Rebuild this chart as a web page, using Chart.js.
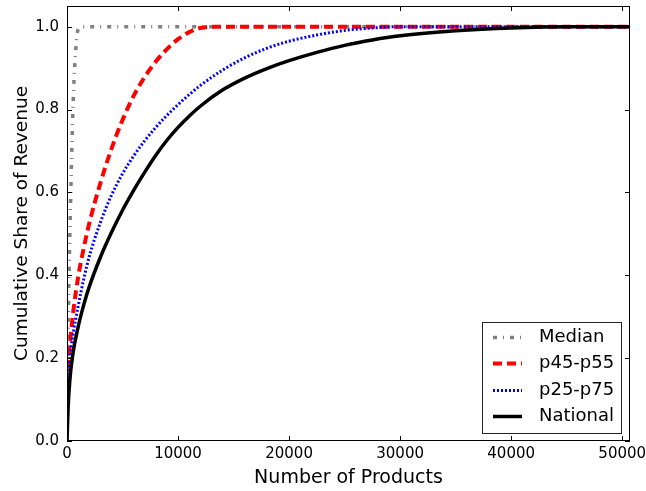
<!DOCTYPE html>
<html>
<head>
<meta charset="utf-8">
<script src="https://cdn.jsdelivr.net/npm/chart.js@4.4.0/dist/chart.umd.min.js"></script>
<style>
  html, body { margin: 0; padding: 0; background: #fff; }
  canvas { display: block; }
</style>
</head>
<body>
<canvas id="chart" width="646" height="491"></canvas>
<script>
// tick values for both axes
const xTicks = [0, 10000, 20000, 30000, 40000, 50000];
const yTicks = [0.0, 0.2, 0.4, 0.6, 0.8, 1.0];

// Median (dash-dot grey)
const medianX = [0, 50, 150, 300, 450, 600, 750, 900, 1100, 1400, 50700];
const medianY = [0, 0.15, 0.35, 0.55, 0.72, 0.85, 0.93, 0.98, 0.997, 1.0, 1.0];

// p45-p55 (red dashed)
const p45X = [0, 100, 300, 600, 1000, 1500, 2000, 3000, 4000, 5000, 6000, 7000, 8000, 9000, 10000, 11000, 12000, 13000, 50700];
const p45Y = [0.14, 0.18, 0.245, 0.32, 0.395, 0.465, 0.525, 0.622, 0.705, 0.775, 0.833, 0.879, 0.916, 0.946, 0.97, 0.987, 0.997, 1.0, 1.0];

// p25-p75 (blue dotted)
const p25X = [0, 200, 500, 1000, 1500, 2000, 3000, 4000, 5000, 6000, 7000, 8000, 9000, 10000, 11000, 12000, 14000, 16000, 18000, 20000, 22500, 25000, 27500, 30000, 50700];
const p25Y = [0.13, 0.19, 0.25, 0.325, 0.39, 0.445, 0.527, 0.593, 0.645, 0.688, 0.725, 0.757, 0.786, 0.812, 0.836, 0.858, 0.895, 0.925, 0.948, 0.965, 0.98, 0.991, 0.997, 1.0, 1.0];

// National (solid black)
const natX = [0, 100, 250, 500, 1000, 1500, 2000, 3000, 4000, 5000, 6000, 7000, 8000, 9000, 10000, 11000, 12000, 14000, 16000, 18000, 20000, 22500, 25000, 27500, 30000, 35000, 40000, 45000, 50700];
const natY = [0, 0.08, 0.145, 0.205, 0.275, 0.328, 0.372, 0.443, 0.503, 0.557, 0.605, 0.649, 0.69, 0.726, 0.757, 0.784, 0.808, 0.847, 0.876, 0.899, 0.918, 0.938, 0.955, 0.968, 0.978, 0.99, 0.997, 1.0, 1.0];

const toPoints = (xs, ys) => xs.map((x, i) => ({ x: x, y: ys[i] }));

const font = "'DejaVu Sans', sans-serif";

//frame + inward ticks on all four sides, like matplotlib classic
const framePlugin = {
  id: 'frame',
  afterDatasetsDraw(chart) {
    const { ctx, chartArea: a, scales } = chart;
    ctx.save();
    ctx.strokeStyle = '#000';
    ctx.lineWidth = 1;
    ctx.strokeRect(a.left + 0.5, a.top + 0.5, a.width - 1, a.height - 1);
    ctx.beginPath();
    xTicks.forEach(v => {
      const px = Math.round(scales.x.getPixelForValue(v)) + 0.5;
      ctx.moveTo(px, a.bottom); ctx.lineTo(px, a.bottom - 5);
      ctx.moveTo(px, a.top); ctx.lineTo(px, a.top + 5);
    });
    yTicks.forEach(v => {
      const py = Math.round(scales.y.getPixelForValue(v)) + 0.5;
      ctx.moveTo(a.left, py); ctx.lineTo(a.left + 5, py);
      ctx.moveTo(a.right, py); ctx.lineTo(a.right - 5, py);
    });
    ctx.stroke();
    ctx.restore();
  }
};

//legend box in the lower right of the plot
const legendPlugin = {
  id: 'boxLegend',
  afterDraw(chart) {
    const { ctx, chartArea: a } = chart;
    const w = 139, h = 111;
    const left = a.right - 9 - w, top = a.bottom - 8 - h;
    ctx.save();
    ctx.fillStyle = '#fff';
    ctx.fillRect(left, top, w, h);
    ctx.strokeStyle = '#222';
    ctx.lineWidth = 1;
    ctx.strokeRect(left + 0.5, top + 0.5, w, h);
    const ds = chart.data.datasets;
    ds.forEach((d, i) => {
      const cy = Math.round(top + 15 + i * 26.4) + 0.5;
      ctx.strokeStyle = d.borderColor;
      ctx.lineWidth = d.borderWidth;
      ctx.setLineDash(d.borderDash || []);
      ctx.beginPath();
      ctx.moveTo(left + 11, cy);
      ctx.lineTo(left + 40, cy);
      ctx.stroke();
      ctx.setLineDash([]);
      ctx.fillStyle = '#000';
      ctx.font = '18px ' + font;
      ctx.textBaseline = 'middle';
      ctx.fillText(d.label, left + 57, cy);
    });
    ctx.restore();
  }
};

const noPad = s => { s.paddingTop = 0; s.paddingBottom = 0; s.paddingLeft = 0; s.paddingRight = 0; };

new Chart(document.getElementById('chart'), {
  type: 'line',
  data: {
    datasets: [
      { label: 'Median', data: toPoints(medianX, medianY), borderColor: '#808080', borderWidth: 3.5, borderDash: [4, 6, 1, 6], order: 3 },
      { label: 'p45-p55', data: toPoints(p45X, p45Y), borderColor: '#ff0000', borderWidth: 4, borderDash: [9, 5], order: 2 },
      { label: 'p25-p75', data: toPoints(p25X, p25Y), borderColor: '#0000ff', borderWidth: 3, borderDash: [2, 2], order: 1 },
      { label: 'National', data: toPoints(natX, natY), borderColor: '#000000', borderWidth: 3.5, order: 0 },
    ],
  },
  options: {
    responsive: false,
    animation: false,
    events: [],
    layout: { padding: { top: 6, right: 16, left: 0, bottom: 0 } },
    elements: {
      point: { radius: 0 },
      line: { cubicInterpolationMode: 'monotone', fill: false, borderCapStyle: 'butt' },
    },
    plugins: {
      legend: { display: false },
      tooltip: { enabled: false },
    },
    scales: {
      x: {
        type: 'linear',
        min: 0,
        max: 50700,
        grid: { display: false, drawTicks: false, tickLength: 0 },
        border: { display: false },
        afterBuildTicks: s => { s.ticks = xTicks.map(v => ({ value: v })); },
        afterFit: s => { s.height = 50; noPad(s); },
        ticks: {
          color: '#000',
          padding: 4,
          maxRotation: 0,
          font: { family: font, size: 15 },
          callback: v => String(v),
        },
        title: {
          display: true,
          text: 'Number of Products',
          color: '#000',
          padding: { top: 0, bottom: 2 },
          font: { family: font, size: 19 },
        },
      },
      y: {
        min: 0,
        max: 1.05,
        grid: { display: false, drawTicks: false, tickLength: 0 },
        border: { display: false },
        afterBuildTicks: s => { s.ticks = yTicks.map(v => ({ value: v })); },
        afterFit: s => { s.width = 67; noPad(s); },
        ticks: {
          color: '#000',
          padding: 8,
          font: { family: font, size: 15 },
          callback: v => Number(v).toFixed(1),
        },
        title: {
          display: true,
          text: 'Cumulative Share of Revenue',
          color: '#000',
          padding: { top: 11, bottom: 0 },
          font: { family: font, size: 18.5 },
        },
      },
    },
  },
  plugins: [framePlugin, legendPlugin],
});
</script>
</body>
</html>
